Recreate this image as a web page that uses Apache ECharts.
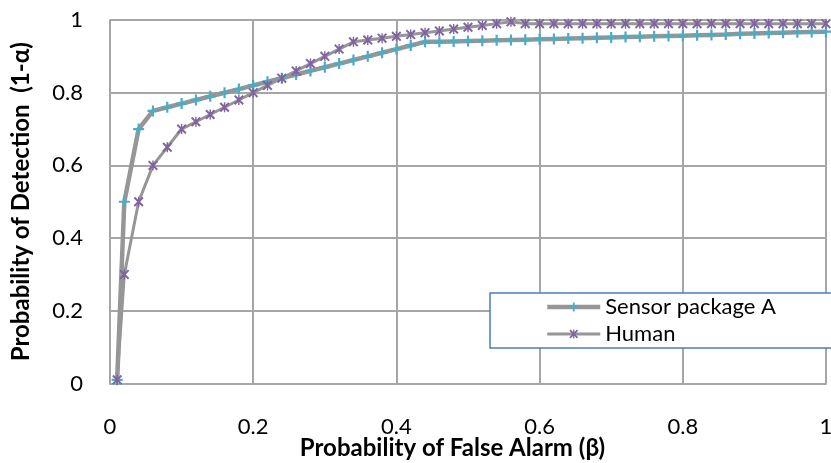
<!DOCTYPE html>
<html>
<head>
<meta charset="utf-8">
<script src="https://cdn.jsdelivr.net/npm/echarts@6/dist/echarts.min.js"></script>
<style>
html,body{margin:0;padding:0;background:#fff;overflow:hidden;}
#chart{width:831px;height:463px;}
</style>
</head>
<body>
<div id="chart"></div>
<script>
// False-alarm probability (x values)
const falseAlarm = [0.01, 0.02, 0.04, 0.06, 0.08, 0.10, 0.12, 0.14, 0.16, 0.18,
  0.20, 0.22, 0.24, 0.26, 0.28, 0.30, 0.32, 0.34, 0.36, 0.38,
  0.40, 0.42, 0.44, 0.46, 0.48, 0.50, 0.52, 0.54, 0.56, 0.58,
  0.60, 0.62, 0.64, 0.66, 0.68, 0.70, 0.72, 0.74, 0.76, 0.78,
  0.80, 0.82, 0.84, 0.86, 0.88, 0.90, 0.92, 0.94, 0.96, 0.98, 1.00];

// Detection probability - Sensor package A
const sensorA = [0.01, 0.50, 0.70, 0.75, 0.76, 0.77, 0.78, 0.79, 0.80, 0.81,
  0.82, 0.83, 0.84, 0.85, 0.86, 0.87, 0.88, 0.89, 0.90, 0.91,
  0.92, 0.93, 0.94, 0.94, 0.941, 0.942, 0.943, 0.944, 0.945, 0.946,
  0.947, 0.948, 0.949, 0.950, 0.951, 0.952, 0.953, 0.954, 0.955, 0.956,
  0.957, 0.958, 0.959, 0.960, 0.962, 0.963, 0.964, 0.965, 0.966, 0.967, 0.968];

// Detection probability - Human
const human = [0.01, 0.30, 0.50, 0.60, 0.65, 0.70, 0.72, 0.74, 0.76, 0.78,
  0.80, 0.82, 0.84, 0.86, 0.88, 0.90, 0.92, 0.94, 0.945, 0.95,
  0.955, 0.96, 0.965, 0.97, 0.975, 0.98, 0.985, 0.99, 0.995, 0.99,
  0.99, 0.99, 0.99, 0.99, 0.99, 0.99, 0.99, 0.99, 0.99, 0.99,
  0.99, 0.99, 0.99, 0.99, 0.99, 0.99, 0.99, 0.99, 0.99, 0.99, 0.99];

const seriesNames = ['Sensor package A', 'Human'];
const xTitle = 'Probability of False Alarm (β)';
const yTitle = 'Probability of Detection  (1-α)';

const plusPath = 'path://M4,0H6V4H10V6H6V10H4V6H0V4H4Z';
const starPath = 'path://M0,1.4L1.4,0L5,3.6L8.6,0L10,1.4L6.4,5L10,8.6L8.6,10L5,6.4L1.4,10L0,8.6L3.6,5Z M4.3,0H5.7V10H4.3Z';

const FONT = 'Lato, "Liberation Sans", sans-serif';
const gridColor = '#a6a6a6';
const lineColor = '#969696';

const chart = echarts.init(document.getElementById('chart'), null, {renderer: 'canvas'});
chart.setOption({
  animation: false,
  backgroundColor: '#fff',
  grid: {left: 110, right: 5, top: 20, bottom: 79.5, containLabel: false, outerBoundsMode: 'none'},
  legend: {
    orient: 'vertical',
    left: 490, top: 293,
    padding: [3, 70, 3, 55],
    itemWidth: 53, itemHeight: 11, itemGap: 5,
    backgroundColor: '#fff',
    borderColor: '#4a7ebb', borderWidth: 1.5, borderRadius: 0,
    selectedMode: false,
    textStyle: {fontFamily: FONT, fontSize: 22, color: '#000', lineHeight: 22},
    data: [
      {name: seriesNames[0], lineStyle: {width: 4.5, color: lineColor}},
      {name: seriesNames[1], lineStyle: {width: 3, color: lineColor}}
    ]
  },
  xAxis: {
    type: 'value', min: 0, max: 1, interval: 0.2,
    name: xTitle, nameLocation: 'middle', nameGap: 53, nameMoveOverlap: false,
    nameTextStyle: {fontFamily: FONT, fontSize: 24, fontWeight: 'bold', color: '#000', padding: [0, 31, 0, 0]},
    axisLine: {show: true, lineStyle: {color: gridColor, width: 2}},
    axisTick: {show: false},
    axisLabel: {margin: 32, fontFamily: FONT, fontSize: 22, color: '#000'},
    splitLine: {show: true, lineStyle: {color: gridColor, width: 2}}
  },
  yAxis: {
    type: 'value', min: 0, max: 1, interval: 0.2,
    name: yTitle, nameLocation: 'middle', nameGap: 76.5, nameRotate: 90, nameMoveOverlap: false,
    nameTextStyle: {fontFamily: FONT, fontSize: 24, fontWeight: 'bold', color: '#000'},
    axisLine: {show: true, lineStyle: {color: gridColor, width: 2}},
    axisTick: {show: false},
    axisLabel: {margin: 27, fontFamily: FONT, fontSize: 22, color: '#000'},
    splitLine: {show: true, lineStyle: {color: gridColor, width: 2}}
  },
  series: [
    {
      name: seriesNames[0], type: 'line',
      data: falseAlarm.map((x, i) => [x, sensorA[i]]),
      symbol: plusPath, symbolSize: 11, showAllSymbol: true,
      itemStyle: {color: '#4bacc6', borderWidth: 0},
      lineStyle: {color: lineColor, width: 4.5},
      z: 2
    },
    {
      name: seriesNames[1], type: 'line',
      data: falseAlarm.map((x, i) => [x, human[i]]),
      symbol: starPath, symbolSize: 10, showAllSymbol: true,
      itemStyle: {color: '#8064a2', borderWidth: 0},
      lineStyle: {color: lineColor, width: 3},
      z: 3
    }
  ]
});
</script>
</body>
</html>
